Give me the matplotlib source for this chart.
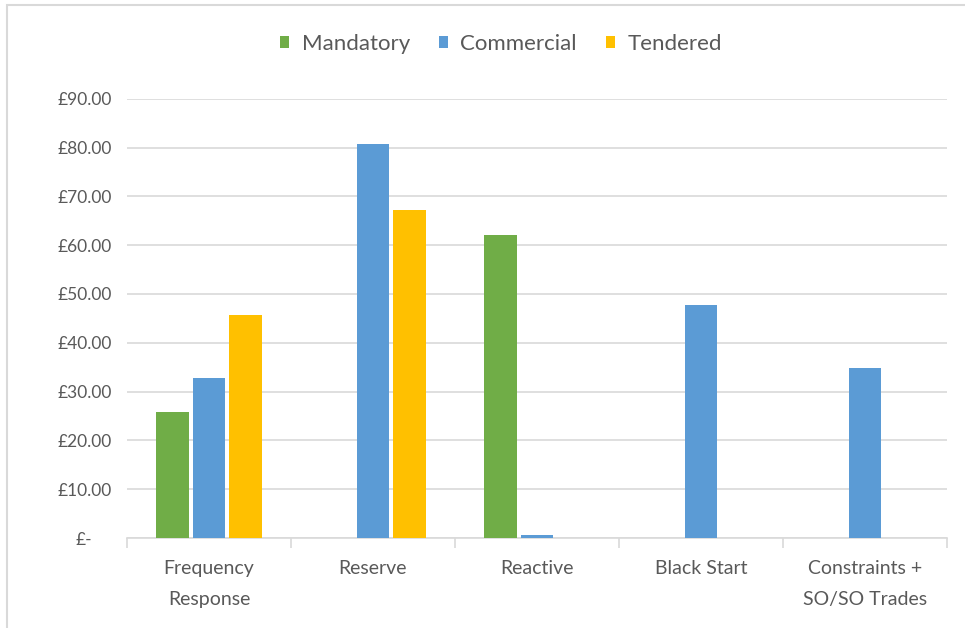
import matplotlib
matplotlib.use("Agg")
import matplotlib.pyplot as plt
from matplotlib.transforms import ScaledTranslation
import numpy as np

categories = ["Frequency\nResponse", "Reserve", "Reactive", "Black Start", "Constraints +\nSO/SO Trades"]
series_names = ["Mandatory", "Commercial", "Tendered"]
mandatory = [25.8, None, 62.1, None, None]
commercial = [32.8, 80.7, 0.6, 47.7, 34.8]
tendered = [45.6, 67.1, None, None, None]
colors = ["#70ad47", "#5b9bd5", "#ffc000"]
ytick_values = [0, 10, 20, 30, 40, 50, 60, 70, 80, 90]
ytick_labels = ["£-", "£10.00", "£20.00", "£30.00", "£40.00", "£50.00",
                "£60.00", "£70.00", "£80.00", "£90.00"]

plt.rcParams["font.family"] = ["Lato", "DejaVu Sans"]
text_color = "#595959"
grid_color = "#d9d9d9"

fig = plt.figure(figsize=(9.65, 6.28), dpi=100)
ax = fig.add_axes([0.1316, 0.1433, 0.8497, 0.6995])

x = np.arange(len(categories))
width = 0.2
step = 0.222
for i, (name, vals) in enumerate(zip(series_names, [mandatory, commercial, tendered])):
    xs = [xi + (i - 1) * step for xi, v in zip(x, vals) if v is not None]
    vs = [v for v in vals if v is not None]
    ax.bar(xs, vs, width=width, color=colors[i], label=name, zorder=3)

ax.set_xlim(-0.5, len(categories) - 0.5)
ax.set_ylim(0, 90)
ax.set_yticks(ytick_values)
ax.set_yticklabels(ytick_labels)
ax.grid(axis="y", color=grid_color, linewidth=1.2, zorder=0)
ax.tick_params(axis="y", length=0, pad=11, labelsize=12.5, labelcolor=text_color)

# category boundaries carry the x tick marks
ax.set_xticks(np.arange(-0.5, len(categories)), minor=False)
ax.set_xticklabels([])
ax.set_xticks(x, minor=True)
ax.set_xticklabels(categories, minor=True, linespacing=2.0)
ax.tick_params(axis="x", which="major", length=7, color=grid_color, width=1.2, direction="out")
ax.tick_params(axis="x", which="minor", length=0, pad=16, labelsize=14, labelcolor=text_color)

for side in ["top", "right", "left"]:
    ax.spines[side].set_visible(False)
ax.spines["bottom"].set_color(grid_color)
ax.spines["bottom"].set_linewidth(1.2)

# shift the zero label left, as in accounting number format
lab0 = ax.get_yticklabels()[0]
lab0.set_transform(lab0.get_transform() + ScaledTranslation(-0.20, 0, fig.dpi_scale_trans))

leg = ax.legend(loc="center", bbox_to_anchor=(0.456, 1.125), ncol=3, frameon=False,
                fontsize=16, handlelength=0.42, handleheight=0.42, handletextpad=0.55,
                columnspacing=1.3)
for t in leg.get_texts():
    t.set_color(text_color)

# chart area outline (runs off the right and bottom edges)
fig.patches.append(plt.Rectangle((6.5 / 965, -0.05), 1.1, 1 - 5.5 / 628 + 0.05,
                                 transform=fig.transFigure, fill=False,
                                 edgecolor=grid_color, linewidth=1.5))

fig.savefig("out.png", dpi=100, facecolor="white")
